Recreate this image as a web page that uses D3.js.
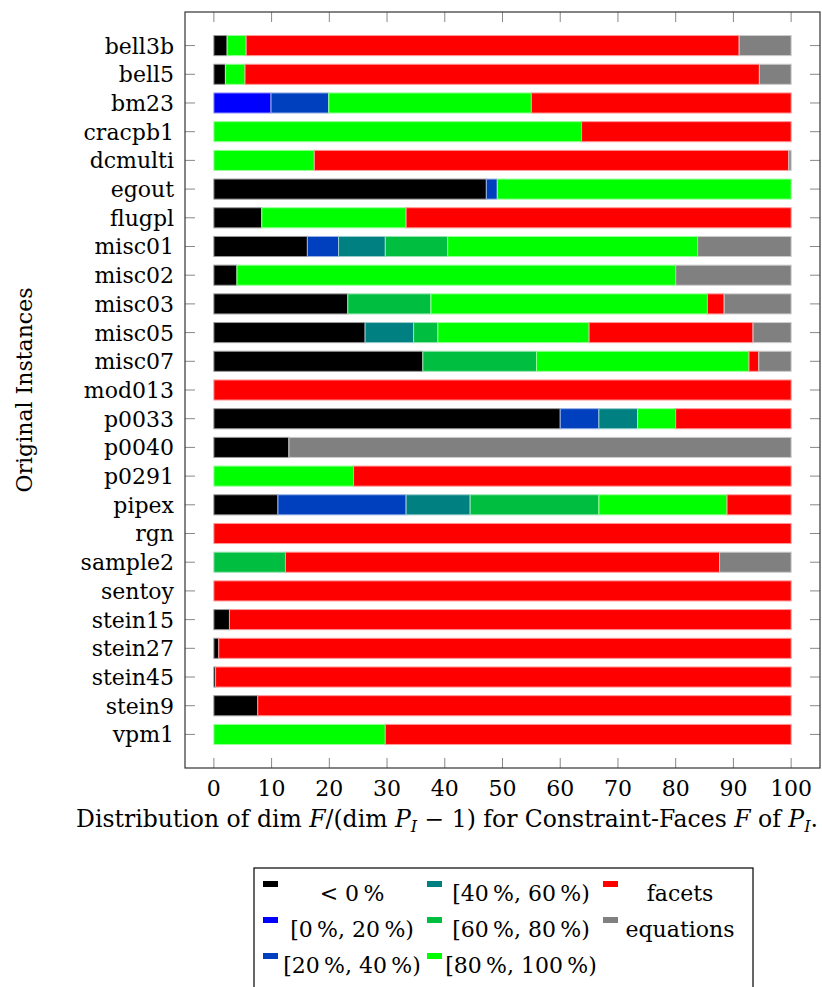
<!DOCTYPE html>
<html>
<head>
<meta charset="utf-8">
<script src="https://d3js.org/d3.v7.min.js"></script>
<style>
  body { margin: 0; background: #fff; }
  svg text { font-family: "DejaVu Serif", "Liberation Serif", serif; fill: #000; }
</style>
</head>
<body>
<svg id="chart" width="822" height="987"></svg>
<script>
// instances, top to bottom
var instances = ["bell3b", "bell5", "bm23", "cracpb1", "dcmulti", "egout", "flugpl", "misc01",
  "misc02", "misc03", "misc05", "misc07", "mod013", "p0033", "p0040", "p0291", "pipex", "rgn",
  "sample2", "sentoy", "stein15", "stein27", "stein45", "stein9", "vpm1"];

// series shares in percent, one value per instance
var neg     = [2.3, 2.0, 0, 0, 0, 47.2, 8.3, 16.2, 4.0, 23.2, 26.2, 36.2, 0, 60.0, 13.0, 0, 11.1, 0, 0, 0, 2.7, 0.85, 0.3, 7.6, 0];
var p0_20   = [0, 0, 9.9, 0, 0, 0, 0, 0, 0, 0, 0, 0, 0, 0, 0, 0, 0, 0, 0, 0, 0, 0, 0, 0, 0];
var p20_40  = [0, 0, 10.0, 0, 0, 1.9, 0, 5.4, 0, 0, 0, 0, 0, 6.7, 0, 0, 22.2, 0, 0, 0, 0, 0, 0, 0, 0];
var p40_60  = [0, 0, 0, 0, 0, 0, 0, 8.1, 0, 0, 8.4, 0, 0, 6.7, 0, 0, 11.1, 0, 0, 0, 0, 0, 0, 0, 0];
var p60_80  = [0, 0, 0, 0, 0, 0, 0, 10.8, 0, 14.4, 4.2, 19.7, 0, 0, 0, 0, 22.3, 0, 12.4, 0, 0, 0, 0, 0, 0];
var p80_100 = [3.3, 3.4, 35.1, 63.7, 17.4, 50.9, 25.0, 43.3, 76.0, 47.9, 26.2, 36.8, 0, 6.6, 0, 24.2, 22.2, 0, 0, 0, 0, 0, 0, 0, 29.7];
var facets  = [85.4, 89.1, 45.0, 36.3, 82.2, 0, 66.7, 0, 0, 2.9, 28.4, 1.7, 100, 20.0, 0, 75.8, 11.1, 100, 75.2, 100, 97.3, 99.15, 99.7, 92.4, 70.3];
var equations = [9.0, 5.5, 0, 0, 0.4, 0, 0, 16.2, 20.0, 11.6, 6.6, 5.6, 0, 0, 87.0, 0, 0, 0, 12.4, 0, 0, 0, 0, 0, 0];

var seriesKeys   = ["neg", "p0_20", "p20_40", "p40_60", "p60_80", "p80_100", "facets", "equations"];
var seriesLabels = ["< 0\u2009%", "[0\u2009%, 20\u2009%)", "[20\u2009%, 40\u2009%)", "[40\u2009%, 60\u2009%)",
  "[60\u2009%, 80\u2009%)", "[80\u2009%, 100\u2009%)", "facets", "equations"];
var seriesColors = ["#000000", "#0000ff", "#0040bf", "#008080", "#00bf40", "#00ff00", "#ff0000", "#808080"];
var xTicks = [0, 10, 20, 30, 40, 50, 60, 70, 80, 90, 100];

var cols = [neg, p0_20, p20_40, p40_60, p60_80, p80_100, facets, equations];
var rows = instances.map(function(name, i) {
  var r = { name: name };
  seriesKeys.forEach(function(k, j) { r[k] = cols[j][i]; });
  return r;
});

var svg = d3.select("#chart");
var frame = { left: 185, right: 820, top: 12, bottom: 768 };
var fs = "22px";

var x = d3.scaleLinear().domain([-5, 105]).range([frame.left, frame.right]);
var y = d3.scaleBand().domain(instances).range([frame.top, frame.bottom])
  .paddingInner(0.3).paddingOuter(0.82);
var color = d3.scaleOrdinal().domain(seriesKeys).range(seriesColors);

var stacked = d3.stack().keys(seriesKeys)(rows);

// bars
svg.append("g").selectAll("g")
  .data(stacked)
  .enter().append("g")
    .attr("fill", function(d) { return color(d.key); })
    .attr("stroke", function(d) { return d3.interpolateRgb(color(d.key), "#ffffff")(0.6); })
  .selectAll("rect")
  .data(function(d) { return d.filter(function(s) { return s[1] - s[0] > 0; }); })
  .enter().append("rect")
    .attr("x", function(d) { return x(d[0]); })
    .attr("y", function(d) { return y(d.data.name); })
    .attr("width", function(d) { return x(d[1]) - x(d[0]); })
    .attr("height", y.bandwidth())
    .attr("stroke-width", 1);

// ticks (inside, on all four sides)
var tickLen = 10;
var ticks = svg.append("g").attr("stroke", "#888").attr("stroke-width", 1);
xTicks.forEach(function(t) {
  ticks.append("line").attr("x1", x(t)).attr("x2", x(t)).attr("y1", frame.bottom).attr("y2", frame.bottom - tickLen);
  ticks.append("line").attr("x1", x(t)).attr("x2", x(t)).attr("y1", frame.top).attr("y2", frame.top + tickLen);
});
instances.forEach(function(n) {
  var cy = y(n) + y.bandwidth() / 2;
  ticks.append("line").attr("x1", frame.left).attr("x2", frame.left + tickLen).attr("y1", cy).attr("y2", cy);
  ticks.append("line").attr("x1", frame.right).attr("x2", frame.right - tickLen).attr("y1", cy).attr("y2", cy);
});

// frame
svg.append("rect")
  .attr("x", frame.left).attr("y", frame.top)
  .attr("width", frame.right - frame.left).attr("height", frame.bottom - frame.top)
  .attr("fill", "none").attr("stroke", "#333").attr("stroke-width", 1.2);

// tick labels
svg.append("g").selectAll("text")
  .data(xTicks)
  .enter().append("text")
    .attr("x", function(d) { return x(d); })
    .attr("y", frame.bottom + 28)
    .attr("text-anchor", "middle")
    .style("font-size", fs)
    .text(function(d) { return d; });

svg.append("g").selectAll("text")
  .data(instances)
  .enter().append("text")
    .attr("x", frame.left - 11)
    .attr("y", function(d) { return y(d) + y.bandwidth() / 2; })
    .attr("dy", "0.36em")
    .attr("text-anchor", "end")
    .style("font-size", fs)
    .text(function(d) { return d; });

// axis titles
var xl = svg.append("text")
  .attr("x", 447)
  .attr("y", frame.bottom + 59)
  .attr("text-anchor", "middle")
  .style("font-size", "23.5px");
xl.append("tspan").text("Distribution of dim ");
xl.append("tspan").style("font-style", "italic").text("F");
xl.append("tspan").text("/(dim ");
xl.append("tspan").style("font-style", "italic").text("P");
xl.append("tspan").style("font-style", "italic").style("font-size", "16px").attr("dy", 5).text("I");
xl.append("tspan").attr("dy", -5).text(" \u2212 1) for Constraint-Faces ");
xl.append("tspan").style("font-style", "italic").text("F");
xl.append("tspan").text(" of ");
xl.append("tspan").style("font-style", "italic").text("P");
xl.append("tspan").style("font-style", "italic").style("font-size", "16px").attr("dy", 5).text("I");
xl.append("tspan").attr("dy", -5).text(".");

svg.append("text")
  .attr("transform", "translate(32," + ((frame.top + frame.bottom) / 2) + ") rotate(-90)")
  .attr("text-anchor", "middle")
  .style("font-size", fs)
  .text("Original Instances");

// legend
var legend = svg.append("g");
legend.append("rect")
  .attr("x", 254).attr("y", 868).attr("width", 499).attr("height", 140)
  .attr("fill", "#fff").attr("stroke", "#000").attr("stroke-width", 1.2);

var legCols = [{ sw: 263, tx: 352 }, { sw: 427, tx: 521 }, { sw: 603, tx: 680 }];
var legRowY = [901, 937, 973];
var legOrder = [[0, 1, 2], [3, 4, 5], [6, 7]];
legOrder.forEach(function(col, ci) {
  col.forEach(function(si, ri) {
    legend.append("rect")
      .attr("x", legCols[ci].sw).attr("y", legRowY[ri] - 20)
      .attr("width", 15).attr("height", 6)
      .attr("fill", seriesColors[si]);
    legend.append("text")
      .attr("x", legCols[ci].tx).attr("y", legRowY[ri])
      .attr("text-anchor", "middle")
      .style("font-size", fs)
      .text(seriesLabels[si]);
  });
});
</script>
</body>
</html>
